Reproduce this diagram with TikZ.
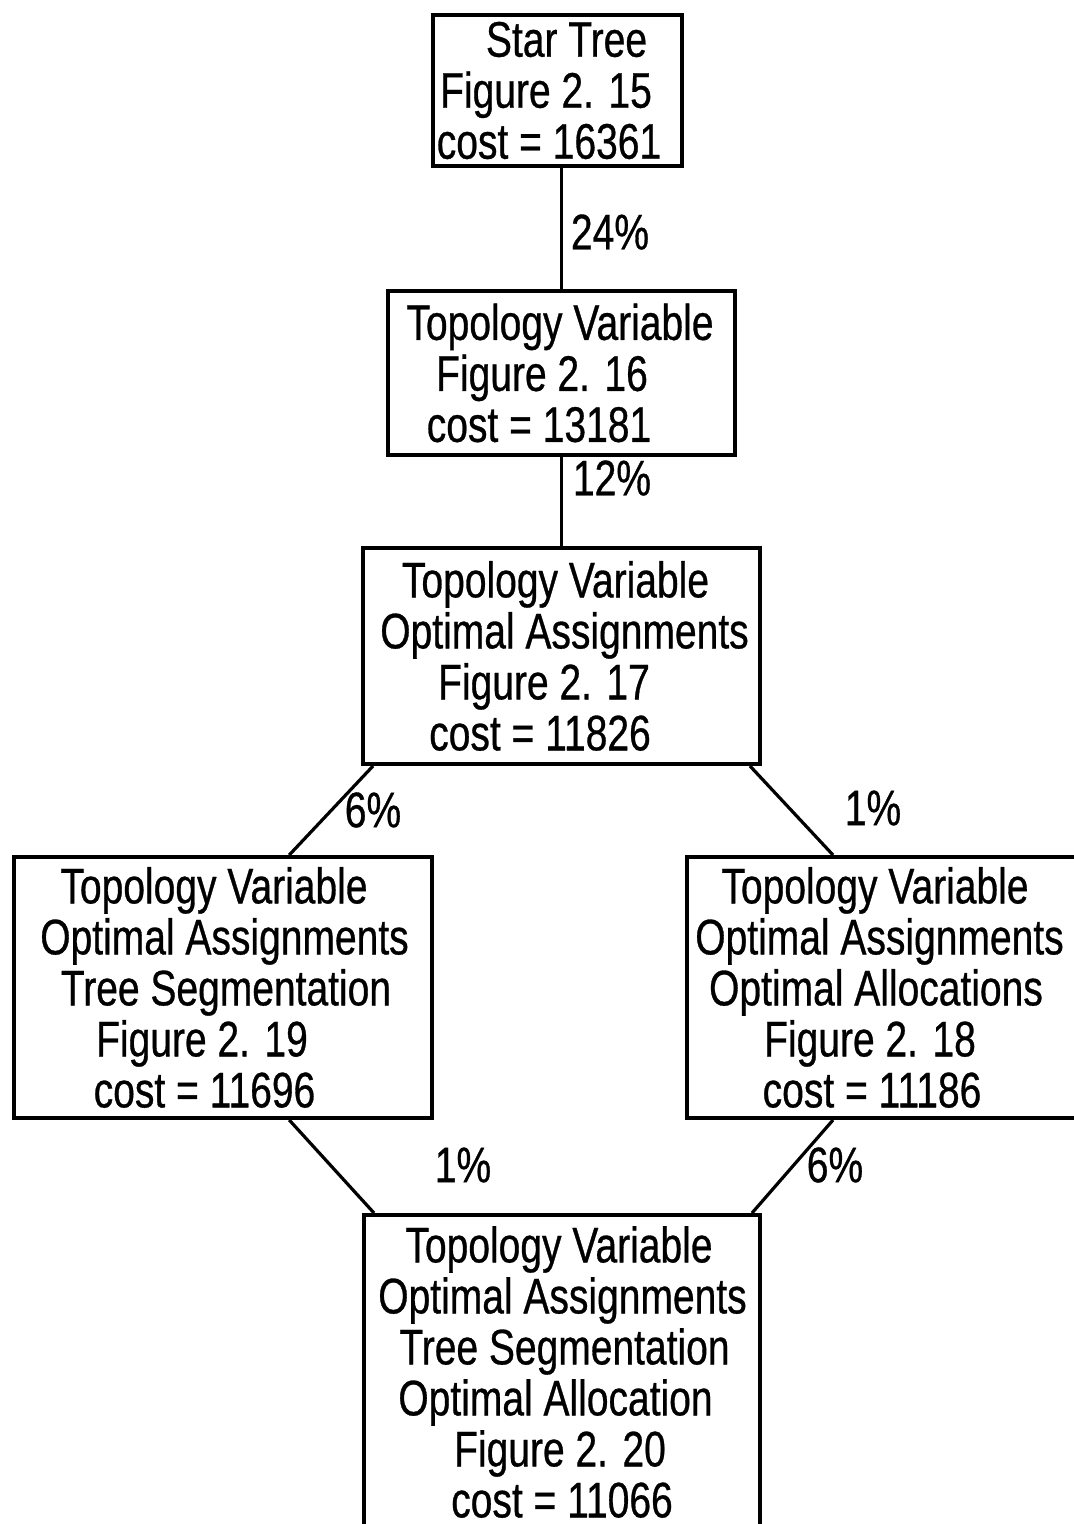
\documentclass[tikz,border=0pt]{standalone}
\usepackage{fontspec}
\setmainfont{Liberation Sans}[FakeStretch=0.78,FakeBold=0.6]
\usetikzlibrary{calc}
% one line of a box label, moved sideways by #1 pt
\newcommand\sline[2]{\hbox{\kern#1pt\relax#2\kern-#1pt\relax}}

\begin{document}
\begin{tikzpicture}[x=0.5pt,y=-0.5pt,
  box/.style={draw,line width=2pt,inner sep=0pt,align=center,
    font=\fontsize{25}{25.5}\selectfont},
  link/.style={line width=1.6pt},
  pct/.style={inner sep=0pt,font=\fontsize{25}{25.5}\selectfont}]
\clip (0,0) rectangle (1074,1524);
\fill[white] (0,0) rectangle (1074,1524);

% boxes
\node[box,minimum width=124.5pt,minimum height=75.5pt] (star) at (557.5,90.5)
  {\sline{4.5}{Star Tree}\\ \sline{-5.75}{Figure 2. 15}\\ \sline{-4.25}{cost = 16361}};
\node[box,minimum width=173.5pt,minimum height=82pt] (tv) at (561.5,373)
  {\sline{-0.75}{Topology Variable}\\ \sline{-9.75}{Figure 2. 16}\\ \sline{-11.25}{cost = 13181}};
\node[box,minimum width=198.5pt,minimum height=108pt] (oa) at (561.5,656)
  {\sline{-3}{Topology Variable}\\ \sline{1.5}{Optimal Assignments}\\
   \sline{-8.75}{Figure 2. 17}\\ \sline{-10.75}{cost = 11826}};
\node[box,minimum width=209pt,minimum height=130.5pt] (ts) at (223,987.5)
  {\sline{-4.5}{Topology Variable}\\ \sline{0.75}{Optimal Assignments}\\
   \sline{1.5}{Tree Segmentation}\\ \sline{-10.5}{Figure 2. 19}\\ \sline{-9.25}{cost = 11696}};
\node[box,minimum width=197.5pt,minimum height=130.5pt] (al) at (884.5,987.5)
  {\sline{-4.75}{Topology Variable}\\ \sline{-2.5}{Optimal Assignments}\\
   \sline{-4.25}{Optimal Allocations}\\ \sline{-7.25}{Figure 2. 18}\\ \sline{-6.25}{cost = 11186}};
\node[box,minimum width=198pt,minimum height=157pt] (all) at (562,1372)
  {\sline{-1.5}{Topology Variable}\\ \sline{0.25}{Optimal Assignments}\\
   \sline{1.25}{Tree Segmentation}\\ \sline{-3.25}{Optimal Allocation}\\
   \sline{-1}{Figure 2. 20}\\ \sline{0}{cost = 11066}};

% connectors
\draw[link] (tv.north |- star.south) -- (tv.north);
\draw[link] (tv.south) -- (oa.north);
\draw[link] ($(oa.south west)+(12,0)$) -- ($(ts.north west)!0.657!(ts.north east)$);
\draw[link] ($(oa.south east)+(-12,0)$) -- ($(al.north west)+(148,0)$);
\draw[link] ($(ts.south west)!0.657!(ts.south east)$) -- ($(all.north west)+(12,0)$);
\draw[link] ($(al.south west)+(148,0)$) -- ($(all.north east)+(-10,0)$);

% percentage labels
\node[pct] (p1) at (610,232) {24\%};
\node[pct] (p2) at (612,478) {12\%};
\node[pct] (p3) at (373,810) {6\%};
\node[pct] (p4) at (873,808) {1\%};
\node[pct] (p5) at (463,1165) {1\%};
\node[pct] (p6) at (835,1165) {6\%};
\end{tikzpicture}
\end{document}
